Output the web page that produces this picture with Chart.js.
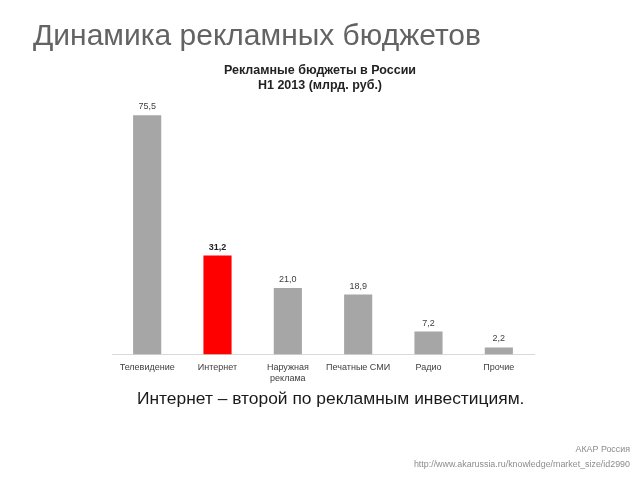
<!DOCTYPE html>
<html>
<head>
<meta charset="utf-8">
<script src="https://cdn.jsdelivr.net/npm/chart.js@4"></script>
<style>
    html, body { margin: 0; padding: 0; background: #fff; }
    #wrap { position: relative; width: 640px; height: 480px; overflow: hidden; font-family: "Liberation Sans", Arial, sans-serif; }
    #budgetChart { position: absolute; left: 0; top: 0; }
    .txt { position: absolute; white-space: nowrap; }
    #heading { left: 33px; top: 18px; font-size: 30px; color: #636363; }
    #chartTitle { left: 120px; width: 400px; top: 63px; text-align: center; font-size: 12.5px; font-weight: bold; color: #222; line-height: 15px; }
    #note { left: 137px; top: 388px; font-size: 17.4px; color: #1a1a1a; }
    #source { right: 10px; top: 442px; text-align: right; font-size: 8.9px; color: #8c8c8c; line-height: 15px; }
</style>
</head>
<body>
<div id="wrap">
    <canvas id="budgetChart" width="640" height="480"></canvas>
    <div class="txt" id="heading">Динамика рекламных бюджетов</div>
    <div class="txt" id="chartTitle">Рекламные бюджеты в России<br>H1 2013 (млрд. руб.)</div>
    <div class="txt" id="note">Интернет – второй по рекламным инвестициям.</div>
    <div class="txt" id="source">АКАР Россия<br>http://www.akarussia.ru/knowledge/market_size/id2990</div>
</div>
<script>
// Chart data
const categories = ['Телевидение', 'Интернет', ['Наружная', 'реклама'], 'Печатные СМИ', 'Радио', 'Прочие'];
const budgets = [75.5, 31.2, 21.0, 18.9, 7.2, 2.2];
const valueLabels = ['75,5', '31,2', '21,0', '18,9', '7,2', '2,2'];
const highlightIndex = 1;

const barColors = budgets.map((v, i) => i === highlightIndex ? '#ff0000' : '#a6a6a6');

// Draw value labels above bars
const valueLabelPlugin = {
    id: 'valueLabels',
    afterDatasetsDraw(chart) {
        const ctx = chart.ctx;
        const meta = chart.getDatasetMeta(0);
        ctx.save();
        ctx.textAlign = 'center';
        ctx.textBaseline = 'bottom';
        meta.data.forEach((bar, i) => {
            ctx.fillStyle = i === highlightIndex ? '#222222' : '#404040';
            ctx.font = (i === highlightIndex ? 'bold ' : '') + '9px "Liberation Sans", Arial, sans-serif';
            ctx.fillText(valueLabels[i], bar.x, bar.y - 4);
        });
        ctx.restore();
    }
};

new Chart(document.getElementById('budgetChart'), {
    type: 'bar',
    data: {
        labels: categories,
        datasets: [{
            data: budgets,
            backgroundColor: barColors,
            borderWidth: 0,
            barPercentage: 0.4,
            categoryPercentage: 1.0
        }]
    },
    options: {
        responsive: false,
        animation: false,
        layout: {
            padding: { left: 112, right: 106, top: 101, bottom: 88 }
        },
        plugins: {
            legend: { display: false },
            tooltip: { enabled: false }
        },
        scales: {
            x: {
                grid: { display: false, drawTicks: false },
                border: { display: true, color: '#d9d9d9', width: 1 },
                ticks: {
                    color: '#404040',
                    padding: 8,
                    maxRotation: 0,
                    autoSkip: false,
                    font: { family: '"Liberation Sans", Arial, sans-serif', size: 9 }
                }
            },
            y: {
                display: false,
                min: 0,
                max: 80
            }
        }
    },
    plugins: [valueLabelPlugin]
});
</script>
</body>
</html>
